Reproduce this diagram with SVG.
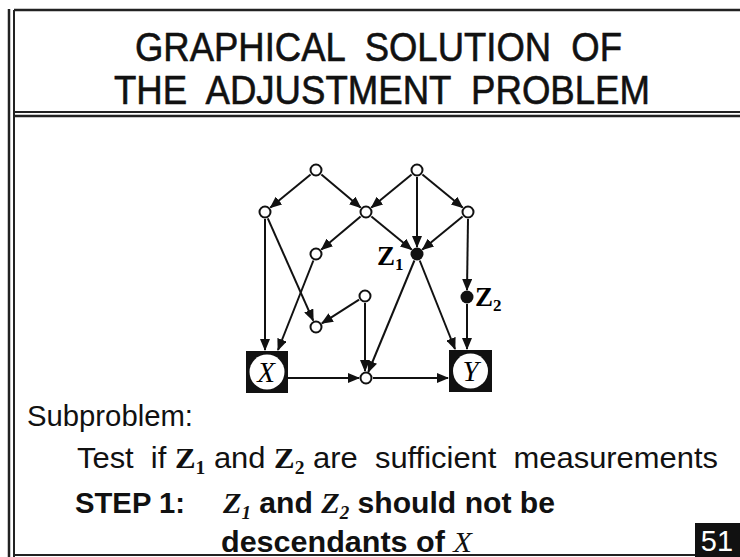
<svg xmlns="http://www.w3.org/2000/svg" width="740" height="557" viewBox="0 0 740 557">
<style>
.frame{stroke:#222;fill:none}
.t{font-family:"Liberation Sans",Arial,sans-serif;fill:#111}
.title{font-size:41px;stroke:#111;stroke-width:0.6}
.body{font-size:30px}
.bold{font-weight:bold}
.ser{font-family:"Liberation Serif","Times New Roman",serif;font-weight:bold}
.it{font-family:"Liberation Serif","Times New Roman",serif;font-style:italic}
.node{fill:#fff;stroke:#111;stroke-width:2}
.fnode{fill:#111}
.edge{stroke:#111;stroke-width:2;fill:none;marker-end:url(#ah)}
.white{fill:#fff}
</style>
<defs>
<marker id="ah" markerUnits="userSpaceOnUse" markerWidth="12" markerHeight="10" refX="11" refY="5" orient="auto">
<path d="M0,0 L12,5 L0,10 Z" fill="#111"/>
</marker>
</defs>
<rect width="740" height="557" fill="#fff"/>
<g id="frame">
<line class="frame" x1="9" y1="9" x2="9" y2="557" stroke-width="2.5"/>
<line class="frame" x1="14" y1="10" x2="14" y2="557" stroke-width="2"/>
<line class="frame" x1="14" y1="10" x2="740" y2="10" stroke-width="2.5"/>
<line class="frame" x1="14" y1="112" x2="740" y2="112" stroke-width="2"/>
<line class="frame" x1="14" y1="116" x2="740" y2="116" stroke-width="2.5"/>
<line class="frame" x1="14" y1="555" x2="740" y2="555" stroke-width="2"/>
</g>
<g id="title">
<text class="t title" x="135" y="61" textLength="487" lengthAdjust="spacingAndGlyphs" xml:space="preserve">GRAPHICAL  SOLUTION  OF</text>
<text class="t title" x="114" y="104" textLength="536" lengthAdjust="spacingAndGlyphs" xml:space="preserve">THE  ADJUSTMENT  PROBLEM</text>
</g>
<g id="connectors">
<line class="edge" x1="310.6" y1="174.5" x2="270.4" y2="207.5"/>
<line class="edge" x1="321.4" y1="174.5" x2="360.6" y2="207.5"/>
<line class="edge" x1="411.6" y1="174.5" x2="371.4" y2="207.5"/>
<line class="edge" x1="417" y1="177" x2="417" y2="247"/>
<line class="edge" x1="422.4" y1="174.5" x2="462.6" y2="207.5"/>
<line class="edge" x1="360.6" y1="216.5" x2="321.4" y2="249.5"/>
<line class="edge" x1="371.4" y1="216.5" x2="411.6" y2="249.5"/>
<line class="edge" x1="462.6" y1="216.5" x2="422.4" y2="249.5"/>
<line class="edge" x1="265" y1="219" x2="265" y2="350"/>
<line class="edge" x1="267.8" y1="218.4" x2="313.2" y2="320.6"/>
<line class="edge" x1="313.4" y1="260.5" x2="278" y2="350"/>
<line class="edge" x1="359.1" y1="299.7" x2="321.9" y2="323.3"/>
<line class="edge" x1="365" y1="303" x2="365" y2="371"/>
<line class="edge" x1="414.4" y1="260.5" x2="368.3" y2="372"/>
<line class="edge" x1="419.7" y1="260.5" x2="455" y2="349"/>
<line class="edge" x1="468" y1="219" x2="467" y2="290"/>
<line class="edge" x1="467" y1="304" x2="467" y2="349"/>
<line class="edge" x1="288" y1="378" x2="359" y2="378"/>
<line class="edge" x1="373" y1="378" x2="448" y2="378"/>
</g>
<g id="n-a"><circle class="node" cx="316" cy="170" r="5.5"/></g>
<g id="n-b"><circle class="node" cx="417" cy="170" r="5.5"/></g>
<g id="n-c"><circle class="node" cx="265" cy="212" r="5.5"/></g>
<g id="n-d"><circle class="node" cx="366" cy="212" r="5.5"/></g>
<g id="n-e"><circle class="node" cx="468" cy="212" r="5.5"/></g>
<g id="n-f"><circle class="node" cx="316" cy="254" r="5.5"/></g>
<g id="n-z1"><circle class="fnode" cx="417" cy="254" r="6.5"/>
<text class="ser" x="377" y="265" font-size="27">Z<tspan font-size="17" dy="5">1</tspan></text></g>
<g id="n-g"><circle class="node" cx="365" cy="296" r="5.5"/></g>
<g id="n-h"><circle class="node" cx="316" cy="327" r="5.5"/></g>
<g id="n-z2"><circle class="fnode" cx="467" cy="297" r="6.5"/>
<text class="ser" x="475" y="306" font-size="27">Z<tspan font-size="17" dy="5">2</tspan></text></g>
<g id="n-m"><circle class="node" cx="366" cy="378" r="5.5"/></g>
<g id="n-x"><rect x="246" y="351" width="42" height="42" fill="#111"/>
<circle cx="267" cy="372" r="17.5" fill="#fff"/>
<text class="it" x="266" y="382" font-size="29" text-anchor="middle">X</text></g>
<g id="n-y"><rect x="449" y="350" width="43" height="42" fill="#111"/>
<circle cx="470.5" cy="371" r="17.5" fill="#fff"/>
<text class="it" x="470.5" y="381" font-size="29" text-anchor="middle">Y</text></g>
<g id="text">
<text class="t body" x="27" y="426" textLength="166" lengthAdjust="spacingAndGlyphs">Subproblem:</text>
<text class="t body" x="77" y="468" textLength="641" lengthAdjust="spacingAndGlyphs" xml:space="preserve">Test  if <tspan class="ser">Z<tspan font-size="19" dy="6">1</tspan></tspan><tspan dy="-6"> and </tspan><tspan class="ser">Z<tspan font-size="19" dy="6">2</tspan></tspan><tspan dy="-6"> are  sufficient  measurements</tspan></text>
<text class="t body bold" x="75" y="513" textLength="110" lengthAdjust="spacingAndGlyphs">STEP 1:</text>
<text class="t body bold" x="223" y="513" textLength="332" lengthAdjust="spacingAndGlyphs"><tspan class="it">Z<tspan font-size="19" dy="6">1</tspan></tspan><tspan dy="-6"> and </tspan><tspan class="it">Z<tspan font-size="19" dy="6">2</tspan></tspan><tspan dy="-6"> should not be</tspan></text>
<text class="t body bold" x="221" y="552" textLength="251" lengthAdjust="spacingAndGlyphs">descendants of <tspan class="it" font-weight="normal">X</tspan></text>
</g>
<g id="page">
<rect x="695" y="523" width="45" height="34" fill="#111"/>
<text class="t white" x="717" y="551" font-size="29" text-anchor="middle">51</text>
</g>
</svg>
